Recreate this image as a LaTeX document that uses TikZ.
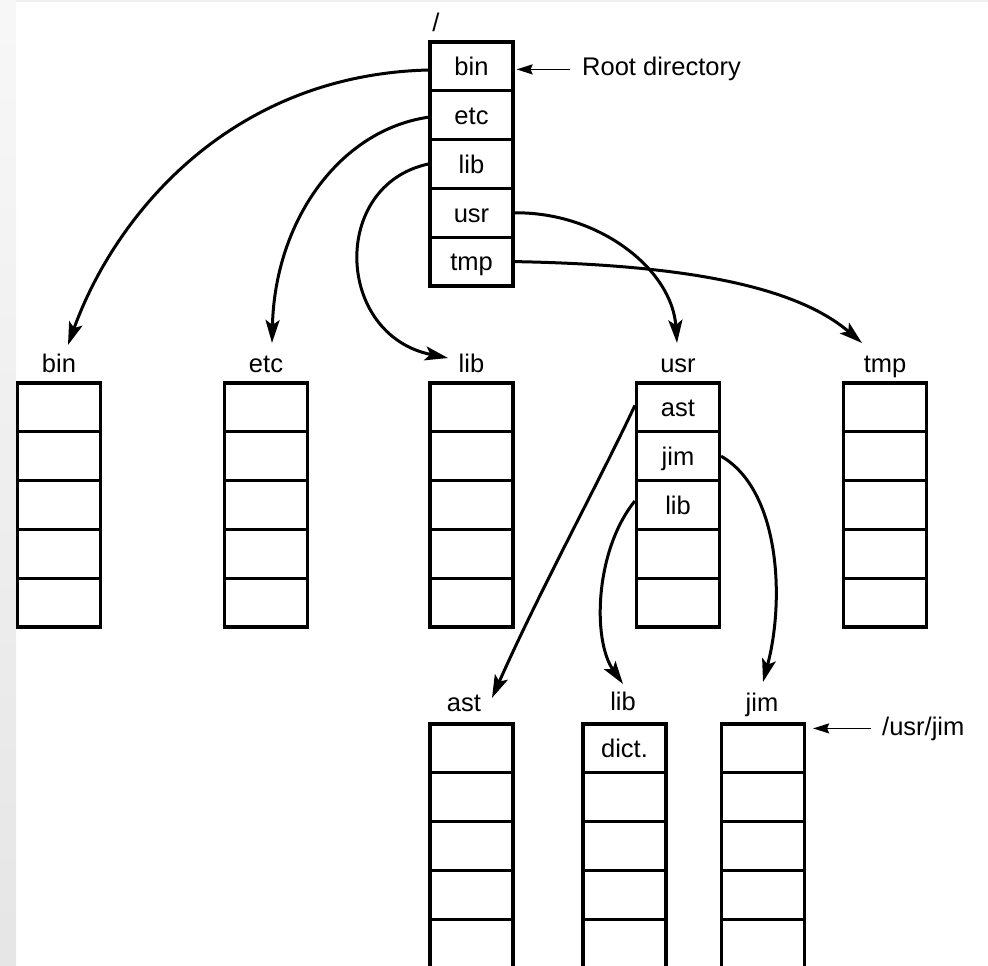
\documentclass[tikz,border=0pt]{standalone}
\usepackage{fontspec}
\setmainfont{Liberation Sans}
\usetikzlibrary{arrows.meta}
\begin{document}
\begin{tikzpicture}[x=1pt,y=-1pt,
  txt/.style={font=\fontsize{25.5}{30}\selectfont},
  cell/.style={txt,draw,line width=3.2pt,minimum width=83pt,minimum height=48.8pt,
    inner sep=0pt,text height=18.5pt,text depth=0pt},
  lbl/.style={txt,anchor=base,inner sep=0pt},
  link/.style={line width=3pt,-{Stealth[length=23pt,width=14pt,inset=5pt]}},
  pointer/.style={line width=1.6pt,-{Stealth[length=16pt,width=10pt,inset=2pt]}},
]
\useasboundingbox (0,0) rectangle (988,966);
\shade[top color=gray!6,bottom color=gray!20] (0,0) rectangle (16,966);
\fill[gray!12] (16,0) rectangle (988,2.5);

% root directory
\node[lbl] (lroot) at (436,32) {/};
\node[cell] (r1) at (471.5,66.4) {bin};
\node[cell] (r2) at (471.5,115.2) {etc};
\node[cell] (r3) at (471.5,164) {lib};
\node[cell] (r4) at (471.5,212.8) {usr};
\node[cell] (r5) at (471.5,261.6) {tmp};
\node[lbl,anchor=base west] (rootlbl) at (582,76) {Root directory};
\coordinate (rtip) at (r1.east |- rootlbl.west);
\draw[pointer] ([xshift=-12pt]rootlbl.west) -- ([xshift=2pt]rtip);

% second level
\foreach \nm/\x in {bin/59,etc/266,lib/471.5,usr/678,tmp/885}{
  \node[lbl] (l\nm) at (\x,372) {\nm};
}
\foreach \nm/\x in {bin/59,etc/266,lib/471.5,tmp/885}{
  \foreach \k/\y in {1/407.4,2/456.2,3/505,4/553.8,5/602.6}{
    \node[cell] (\nm\k) at (\x,\y) {};
  }
}
\node[cell] (usr1) at (678,407.4) {ast};
\node[cell] (usr2) at (678,456.2) {jim};
\node[cell] (usr3) at (678,505) {lib};
\node[cell] (usr4) at (678,553.8) {};
\node[cell] (usr5) at (678,602.6) {};

% third level
\node[lbl] (last) at (464,711) {ast};
\node[lbl] (lulib) at (623,710) {lib};
\node[lbl] (ljim) at (762,711) {jim};
\foreach \nm/\x in {ast/471.5,jim/763}{
  \foreach \k/\y in {1/748.4,2/797.2,3/846,4/894.8,5/943.6}{
    \node[cell] (\nm\k) at (\x,\y) {};
  }
}
\node[cell] (ulib1) at (624.5,748.4) {dict.};
\foreach \k/\y in {2/797.2,3/846,4/894.8,5/943.6}{
  \node[cell] (ulib\k) at (624.5,\y) {};
}
\node[lbl,anchor=base west] (jimlbl) at (882,735) {/usr/jim};
\coordinate (jtip) at (jim1.east |- jimlbl.west);
\draw[pointer] ([xshift=-11pt]jimlbl.west) -- ([xshift=7pt]jtip);

% links from root
\draw[link] ([yshift=-3.6pt]r1.west) .. controls (230,75) and (115,215) .. ([shift={(9,-27)}]lbin.base);
\draw[link] ([yshift=-2pt]r2.west) .. controls (340,130) and (275,220) .. ([shift={(6,-29)}]letc.base);
\draw[link] (r3.west) .. controls (330,185) and (335,335) .. ([shift={(-23.5,-14)}]llib.base);
\draw[link] (r4.east) .. controls (600,212) and (672,270) .. ([shift={(-1,-29)}]lusr.base);
\draw[link] (r5.east) .. controls (700,265) and (800,290) .. ([shift={(-23,-29)}]ltmp.base);

% links from usr
\draw[link] ([yshift=2pt]usr1.west) .. controls (600,480) and (540,590) .. ([shift={(28,-13)}]last.base);
\draw[link] ([yshift=4pt]usr3.west) .. controls (595,550) and (592,640) .. ([shift={(0,-26)}]lulib.base);
\draw[link] (usr2.east) .. controls (780,490) and (785,600) .. ([shift={(1,-29)}]ljim.base);
\end{tikzpicture}
\end{document}
